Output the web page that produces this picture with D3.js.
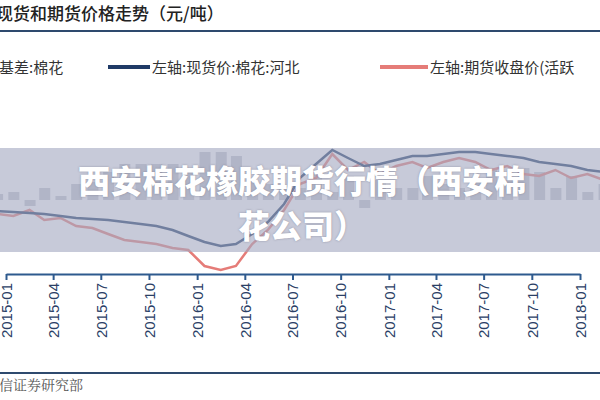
<!DOCTYPE html><html><head><meta charset="utf-8">
<script src="https://cdn.jsdelivr.net/npm/d3@7"></script>
<style>body{margin:0;background:#fff}svg{display:block}</style></head><body>
<svg id="c" width="600" height="400"></svg>
<script>
const months = ["2014-12","2015-01","2015-02","2015-03","2015-04","2015-05","2015-06","2015-07","2015-08","2015-09","2015-10","2015-11","2015-12",
"2016-01","2016-02","2016-03","2016-04","2016-05","2016-06","2016-07","2016-08","2016-09","2016-10","2016-11","2016-12",
"2017-01","2017-02","2017-03","2017-04","2017-05","2017-06","2017-07","2017-08","2017-09","2017-10","2017-11","2017-12",
"2018-01","2018-02","2018-03"];
const spot = [13150,13100,13050,13000,12900,12800,12750,12700,12600,12500,12400,12200,11900,11600,11400,11500,12000,12600,13500,14800,15500,16200,15800,15400,15500,15700,15900,15900,16000,16100,16100,16000,15900,15800,15600,15500,15400,15200,15100,15050];
const futures = [13000,12900,13200,12700,12800,12400,12300,12000,11700,11600,11500,11300,11200,10400,10200,10400,11500,12200,13200,14500,14800,16000,15200,15600,15000,15400,15600,15300,15600,15800,15600,15200,15400,15000,14900,15200,14800,15000,14700,14800];
const basis = [150,200,-150,300,100,400,450,700,900,900,900,900,700,1200,1200,1100,500,400,300,300,700,200,600,-200,500,300,300,600,400,300,500,800,500,800,700,300,600,200,400,250];
const tickLabels = ["2015-01","2015-04","2015-07","2015-10","2016-01","2016-04","2016-07","2016-10","2017-01","2017-04","2017-07","2017-10","2018-01"];
const legendLabels = ["基差:棉花","左轴:现货价:棉花:河北","左轴:期货收盘价(活跃"];

const svg = d3.select("#c");
const p = d3.timeParse("%Y-%m");
const x = d3.scaleTime().domain([p("2015-01"),p("2018-01")]).range([6,580]);
const y = d3.scaleLinear().domain([10000,18000]).range([274,114]);
const yb = d3.scaleLinear().domain([0,1500]).range([200,140]);
const dates = months.map(m=>d3.timeDay.offset(p(m),14));

svg.append("g").selectAll("rect").data(basis).join("rect")
  .attr("x",(d,i)=>x(dates[i])-5).attr("width",11)
  .attr("y",d=>Math.min(yb(d),yb(0))).attr("height",d=>Math.abs(yb(d)-yb(0)))
  .attr("fill","#c4c7cf");

const line = d3.line().x((d,i)=>x(dates[i])).y(d=>y(d));
svg.append("path").datum(futures).attr("d",line).attr("fill","none").attr("stroke","#e57c78").attr("stroke-width",2.5);
svg.append("path").datum(spot).attr("d",line).attr("fill","none").attr("stroke","#1f3a66").attr("stroke-width",2.5);

const ax = svg.append("g").attr("transform","translate(0,274)")
  .call(d3.axisBottom(x).tickValues(tickLabels.map(p)).tickFormat(d3.timeFormat("%Y-%m")).tickSize(6).tickSizeOuter(0));
ax.select(".domain").attr("stroke","#2e5a8e").attr("stroke-width",2);
ax.selectAll(".tick line").attr("stroke","#2e5a8e").attr("stroke-width",2);
ax.selectAll(".tick text").attr("transform","rotate(-90)").attr("text-anchor","end")
  .attr("x",-9).attr("y",0).attr("dy","0.35em").attr("font-size",15).attr("fill","#2b3f66")
  .attr("font-family","Liberation Sans, Arial");

svg.append("text").attr("x",-4).attr("y",20).text("现货和期货价格走势（元/吨）")
  .attr("font-size",17).attr("font-weight",500).attr("fill","#222").attr("font-family","Noto Sans CJK SC");
svg.append("line").attr("x1",0).attr("x2",600).attr("y1",31).attr("y2",31).attr("stroke","#2e4a6e").attr("stroke-width",2);
svg.append("line").attr("x1",0).attr("x2",600).attr("y1",373).attr("y2",373).attr("stroke","#2e4a6e").attr("stroke-width",2);

const lg = svg.append("g").attr("font-family","Noto Sans CJK SC").attr("font-size",15).attr("fill","#333");
lg.append("text").attr("x",-1).attr("y",73).text(legendLabels[0]);
lg.append("line").attr("x1",108).attr("x2",150).attr("y1",67).attr("y2",67).attr("stroke","#1f3a66").attr("stroke-width",4);
lg.append("text").attr("x",152).attr("y",73).text(legendLabels[1]);
lg.append("line").attr("x1",380).attr("x2",428).attr("y1",67).attr("y2",67).attr("stroke","#e57c78").attr("stroke-width",4);
lg.append("text").attr("x",430).attr("y",73).text(legendLabels[2]);

svg.append("text").attr("x",-15).attr("y",390).text("中信证券研究部")
  .attr("font-size",14).attr("fill","#555").attr("font-family","Noto Serif CJK SC, serif");

svg.append("rect").attr("x",0).attr("y",148).attr("width",600).attr("height",104).attr("fill","#a4aac2").attr("opacity",0.62);
const bt = svg.append("g").attr("font-family","Noto Sans CJK SC").attr("font-weight",900).attr("font-size",32)
  .attr("fill","#fff").attr("text-anchor","middle").style("text-shadow","0 0 2px rgba(80,80,100,0.5)");
bt.append("text").attr("x",302).attr("y",193).text("西安棉花橡胶期货行情（西安棉");
bt.append("text").attr("x",302).attr("y",238).text("花公司）");
</script></body></html>
